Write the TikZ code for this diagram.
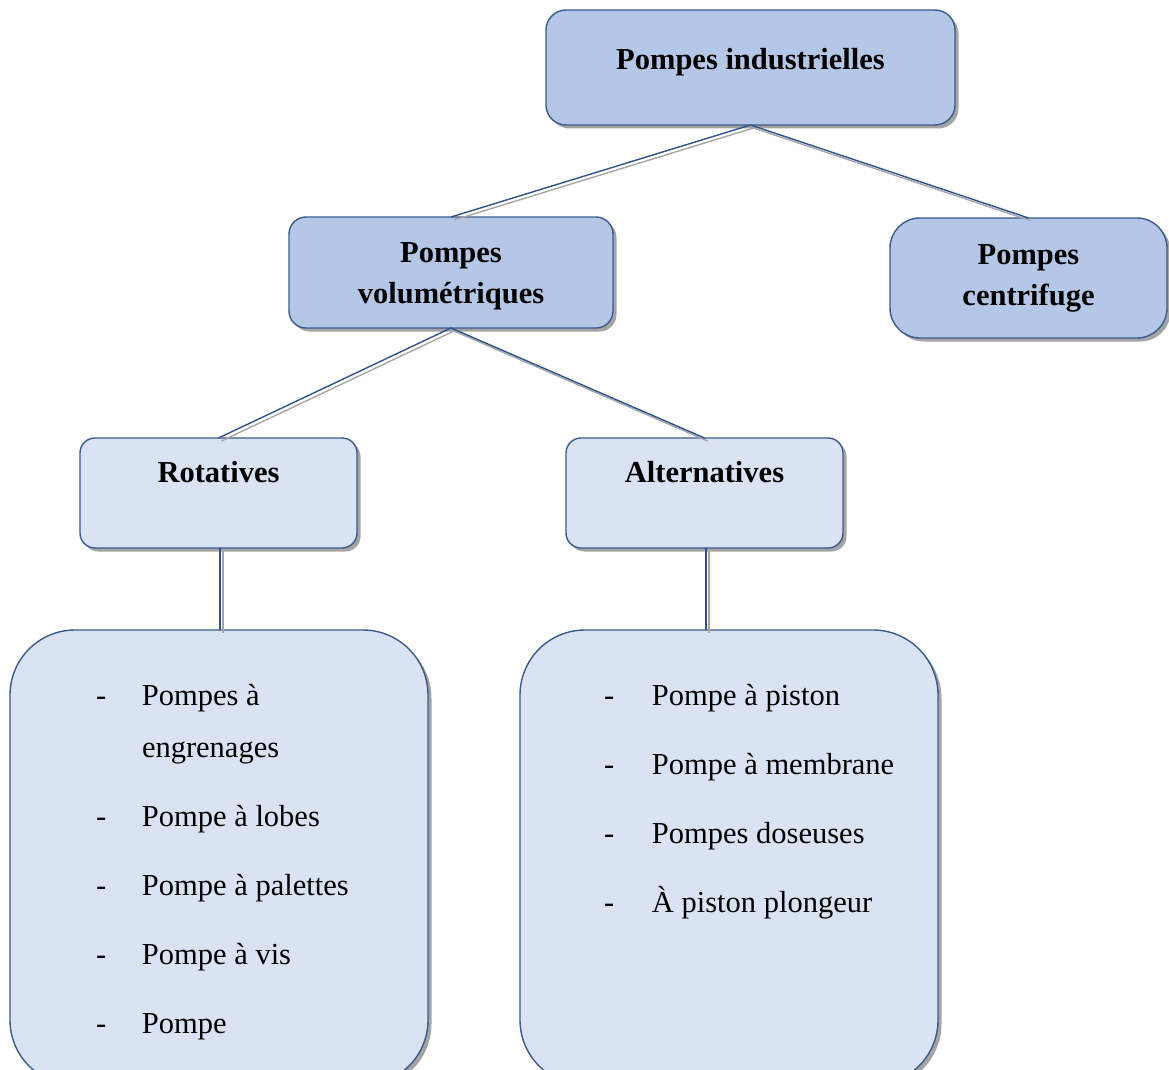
\documentclass[tikz,border=0pt]{standalone}
\usepackage{fontspec}
\setmainfont{Liberation Serif}
\usetikzlibrary{shadows}
\definecolor{boxline}{HTML}{3B5A8E}
\definecolor{fillA}{HTML}{B4C7E7}
\definecolor{fillB}{HTML}{DAE3F3}
\definecolor{linkblue}{HTML}{2F528F}
\definecolor{linkgray}{HTML}{A6A6A6}
\tikzset{
  box/.style={draw=boxline, line width=1.4pt, inner sep=0pt, outer sep=0pt,
    drop shadow={shadow xshift=3.5pt, shadow yshift=-3.5pt, fill=black!65, opacity=0.55},
    font=\fontsize{30.5}{41}\selectfont},
  dark/.style={box, fill=fillA},
  light/.style={box, fill=fillB},
  link/.style={draw=linkblue, line width=1.4pt},
  linkshade/.style={draw=linkgray, line width=1.4pt, transform canvas={shift={(3pt,-3pt)}}},
  listfont/.style={font=\fontsize{30.5}{52}\selectfont},
}
\begin{document}
\begin{tikzpicture}[x=1pt,y=-1pt]
\useasboundingbox (0,0) rectangle (1169,1070);

\node[dark, rounded corners=20pt, minimum width=409pt, text height=60pt, text depth=55pt]
  (top) at (750.5,67.5) {\textbf{Pompes industrielles}};

\node[dark, rounded corners=17pt, minimum width=324pt, text height=45pt, text depth=66pt]
  (vol) at (451,272.5) {\textbf{\begin{tabular}[t]{@{}c@{}}Pompes\\volumétriques\end{tabular}}};

\node[dark, rounded corners=30pt, minimum width=277pt, text height=46pt, text depth=74pt]
  (cen) at (1028.5,278) {\textbf{\begin{tabular}[t]{@{}c@{}}Pompes\\centrifuge\end{tabular}}};

\node[light, rounded corners=15pt, minimum width=277pt, text height=44pt, text depth=66pt]
  (rot) at (218.5,493) {\textbf{Rotatives}};

\node[light, rounded corners=15pt, minimum width=277pt, text height=44pt, text depth=66pt]
  (alt) at (704.5,493) {\textbf{Alternatives}};

\node[light, listfont, rounded corners=65pt, minimum width=418pt, text height=75pt, text depth=380pt]
  (rlist) at (219,857.5) {\begin{tabular}[t]{@{\hspace{86pt}}p{46pt}@{}p{286pt}@{}}
-&Pompes à\\
 &engrenages\\[17pt]
-&Pompe à lobes\\[17pt]
-&Pompe à palettes\\[17pt]
-&Pompe à vis\\[17pt]
-&Pompe
\end{tabular}};

\node[light, listfont, rounded corners=65pt, minimum width=418pt, text height=75pt, text depth=380pt]
  (alist) at (729,857.5) {\begin{tabular}[t]{@{\hspace{84pt}}p{48pt}@{}p{286pt}@{}}
-&Pompe à piston\\[17pt]
-&Pompe à membrane\\[17pt]
-&Pompes doseuses\\[17pt]
-&À piston plongeur
\end{tabular}};

\foreach \a/\b in {top/vol, top/cen, vol/rot, vol/alt}{
  \draw[linkshade] (\a.south) -- (\b.north);
  \draw[link] (\a.south) -- (\b.north);
}
\foreach \a/\b in {rot/rlist, alt/alist}{
  \draw[linkshade] ([xshift=1.5pt]\a.south) -- ([xshift=1.5pt]\a.south |- \b.north);
  \draw[link] ([xshift=1.5pt]\a.south) -- ([xshift=1.5pt]\a.south |- \b.north);
}
\end{tikzpicture}
\end{document}
